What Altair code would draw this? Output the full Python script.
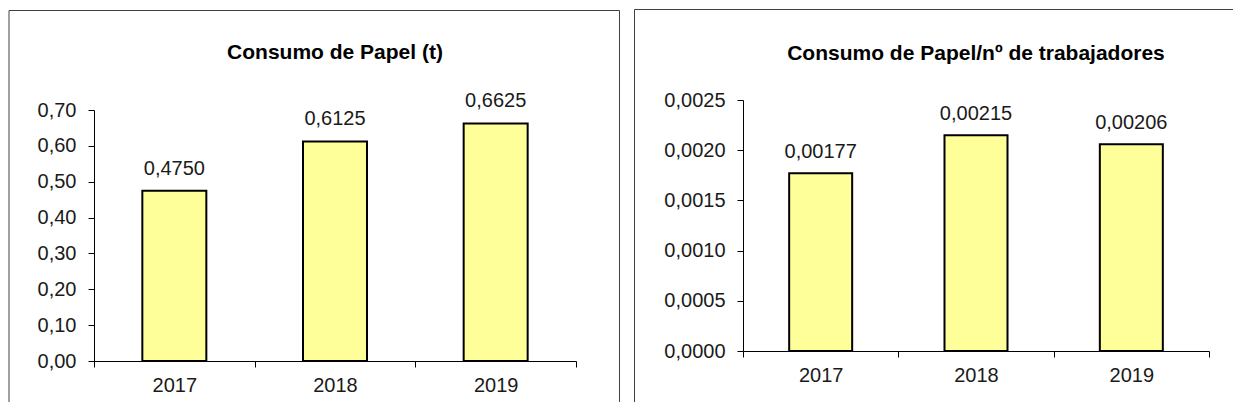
import altair as alt
import pandas as pd

years = ["2017", "2018", "2019"]
papel_t = [0.4750, 0.6125, 0.6625]
papel_trab = [0.00177, 0.00215, 0.00206]
titles = ["Consumo de Papel (t)", "Consumo de Papel/nº de trabajadores"]
ticks_left = [0.0, 0.1, 0.2, 0.3, 0.4, 0.5, 0.6, 0.7]
ticks_right = [0.0, 0.0005, 0.0010, 0.0015, 0.0020, 0.0025]

FONT = "Liberation Sans"
TXT = "#1a1a1a"
FRAME = "#404040"


def hline(one, x1, x2, y):
    return alt.Chart(one).mark_rule(color=FRAME, strokeWidth=1).encode(
        x=alt.value(x1), x2=alt.value(x2), y=alt.value(y)
    )


def vline(one, x, y1, y2):
    return alt.Chart(one).mark_rule(color=FRAME, strokeWidth=1).encode(
        x=alt.value(x), y=alt.value(y1), y2=alt.value(y2)
    )


def panel(values, yticks, fmt_axis, fmt_label, title, w, h, yrange, title_y,
          frame_lines, bar_size, label_dy):
    df = pd.DataFrame({"year": years, "v": values})
    one = pd.DataFrame({"k": [0]})
    x = alt.X(
        "year:N", title=None, sort=years,
        scale=alt.Scale(paddingInner=0, paddingOuter=0),
        axis=alt.Axis(labelAngle=0, tickBand="extent", tickSize=6, labelPadding=8,
                      labelFontSize=20, labelFont=FONT, labelColor=TXT,
                      domainColor="#000", tickColor="#000", domainWidth=1, tickWidth=1,
                      grid=False),
    )
    y = alt.Y(
        "v:Q", title=None,
        scale=alt.Scale(domain=[yticks[0], yticks[-1]], nice=False, zero=True, range=yrange),
        axis=alt.Axis(values=yticks,
                      labelExpr=f"replace(format(datum.value, '{fmt_axis}'), '.', ',')",
                      tickSize=6, labelPadding=12, labelFontSize=20, labelFont=FONT,
                      labelColor=TXT, domainColor="#000", tickColor="#000",
                      domainWidth=1, tickWidth=1, grid=False),
    )
    lines = []
    for kind, a, b, c in frame_lines:
        lines.append(hline(one, a, b, c) if kind == "h" else vline(one, a, b, c))
    bars = alt.Chart(df).mark_bar(size=bar_size, color="#FFFF99", stroke="#000", strokeWidth=2).encode(
        x=x, y=y
    )
    labels = alt.Chart(df).transform_calculate(
        lab=f"replace(format(datum.v, '{fmt_label}'), '.', ',')"
    ).mark_text(dy=label_dy, baseline="alphabetic", fontSize=20, font=FONT, color=TXT).encode(
        x=x, y=y, text="lab:N"
    )
    ttl = alt.Chart(one).mark_text(
        fontSize=21, font=FONT, fontWeight="bold", color="#000", baseline="alphabetic", align="center"
    ).encode(x=alt.value(w / 2), y=alt.value(title_y), text=alt.value(title))
    return alt.layer(*lines, bars, labels, ttl).properties(width=w, height=h)


# left panel: plot origin shared with right panel (page y 99); y range shifted down 10px
left = panel(papel_t, ticks_left, ".2f", ".4f", titles[0], 482, 261, [261, 10], -41,
             [("h", -85, 525.5, -89.5), ("v", -85, -89.5, 302), ("v", 525.5, -89.5, 302)],
             64, -16)
right = panel(papel_trab, ticks_right, ".4f", ".5f", titles[1], 466, 251, [251, 0], -40,
              [("h", -108.5, 490, -90.5), ("v", -108.5, -90.5, 302)],
              63, -15)

chart = alt.hconcat(left, right, spacing=12).configure_view(stroke="transparent").properties(
    padding=0, background="white"
)

chart.save("out.html", embed_options={"renderer": "svg", "actions": False})
